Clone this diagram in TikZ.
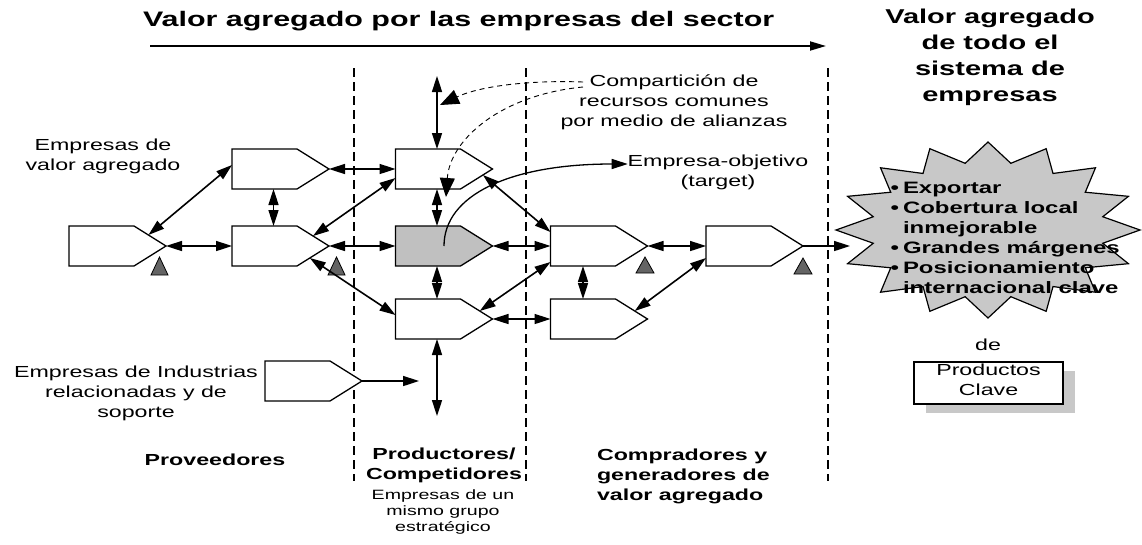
\documentclass[tikz,border=0pt]{standalone}
\usepackage{fontspec}
\setmainfont{Liberation Sans}[FakeStretch=1.45]
\usetikzlibrary{arrows.meta,calc,shadows}
\definecolor{boxgray}{RGB}{192,192,192}
\definecolor{stargray}{RGB}{200,200,200}
\definecolor{tridark}{RGB}{100,100,100}
\definecolor{shadowgray}{RGB}{200,200,200}
\newcommand\firmbox[3][white]{%
  \node[firmnode] (#2) at (#3) {};
  \coordinate (#2-nt) at ([xshift=65pt]#2.north west);
  \coordinate (#2-st) at ([xshift=65pt]#2.south west);
  \filldraw[fill=#1,draw=black,line width=1.3pt]
    (#2.north west) -- (#2-nt) -- (#2.east) -- (#2-st) -- (#2.south west) -- cycle;}
\begin{document}
\begin{tikzpicture}[x=1pt,y=-1pt,
  firmnode/.style={minimum width=97pt,minimum height=40pt,inner sep=0pt,outer sep=0pt},
  conn/.style={line width=1.6pt,>={Triangle[length=16pt,width=10pt]},<->},
  oneway/.style={line width=1.6pt,>={Triangle[length=16pt,width=10pt]},->},
  vdash/.style={line width=1.8pt,dash pattern=on 9pt off 5pt},
  share/.style={line width=0.9pt,dash pattern=on 5pt off 4pt,>={Triangle[length=19pt,width=15pt]},->},
  tri/.style={fill=tridark,draw=black,line width=0.8pt},
  txt/.style={inner sep=0pt,outer sep=0pt,font=\fontsize{16}{20}\selectfont,execute at begin node=\strut},
  btxt/.style={txt,font=\bfseries\fontsize{16}{20}\selectfont},
]
\useasboundingbox (0,0) rectangle (1142,544);

% section separators
\draw[vdash] (354,68) -- (354,481);
\draw[vdash] (526,68) -- (526,481);
\draw[vdash] (828,68) -- (828,481);

% titles
\node[txt,font=\bfseries\fontsize{21}{24}\selectfont,anchor=base west] (title) at (143,26)
  {Valor agregado por las empresas del sector};
\coordinate (ta) at (150,46);
\coordinate (tb) at (826,46);
\draw[line width=1.8pt,-{Triangle[length=16pt,width=9pt]}] (ta) -- (tb);
\node[txt,font=\bfseries\fontsize{20}{26}\selectfont,align=center,anchor=north] (title2) at (990,8.8)
  {Valor agregado\\de todo el\\sistema de\\empresas};

% firms
\firmbox{A}{117.5,246}
\firmbox{B}{280.5,169}
\firmbox{C}{280.5,246}
\firmbox{D}{444,169}
\firmbox[boxgray]{E}{444,246}
\firmbox{H}{444,319}
\firmbox{F}{599,246}
\firmbox{I}{599,319}
\firmbox{G}{754.5,246}
\firmbox{J}{313.5,381}

% small markers
\draw[tri] (159.5,257) -- (168,275) -- (151,275) -- cycle;
\draw[tri] (336.5,257) -- (345,275) -- (328,275) -- cycle;
\draw[tri] (645,257) -- (654,273) -- (636,273) -- cycle;
\draw[tri] (803,258) -- (812,274) -- (794,274) -- cycle;

% free ends
\coordinate (topend) at (437,76);
\coordinate (botend) at (437,416);
\coordinate (jend) at (419,381);
\coordinate (starin) at (850,246);

% connectors
\draw[conn] (A.east) -- (C.west);
\draw[conn] ($(A-nt)!0.45!(A.east)$) -- ($(B.west)+(0,-4)$);
\draw[conn] ($(B.south)+(-7,0)$) -- ($(C.north)+(-7,0)$);
\draw[conn] (B.east) -- (D.west);
\draw[conn] (C.east) -- (E.west);
\draw[conn] ($(C-nt)!0.5!(C.east)$) -- ($(D.west)+(0,9)$);
\draw[conn] ($(C.east)!0.6!(C-st)$) -- ($(H.west)+(0,-4)$);
\draw[conn] ($(D.south)+(-7,0)$) -- ($(E.north)+(-7,0)$);
\draw[conn] ($(E.south)+(-7,0)$) -- ($(H.north)+(-7,0)$);
\draw[conn] ($(D.north)+(-7,0)$) -- (topend);
\draw[conn] ($(H.south)+(-7,0)$) -- (botend);
\draw[conn] ($(D.east)!0.3!(D-st)$) -- ($(F.west)+(0,-14)$);
\draw[conn] (E.east) -- (F.west);
\draw[conn] ($(H-nt)!0.6!(H.east)$) -- ($(F.west)+(0,16)$);
\draw[conn] (H.east) -- (I.west);
\draw[conn] ($(F.south)+(-16,0)$) -- ($(I.north)+(-16,0)$);
\draw[conn] (F.east) -- (G.west);
\draw[conn] ($(I-nt)!0.6!(I.east)$) -- ($(G.west)+(0,12)$);
\draw[oneway] (J.east) -- (jend);

% star
\begin{scope}[shift={(988,230)}]
\filldraw[fill=stargray,draw=black,line width=1.2pt,line join=miter]
  (90:152 and 88) \foreach \i in {0,...,15}{ -- ({101.25+\i*22.5}:117 and 68) -- ({112.5+\i*22.5}:152 and 88)} -- cycle;
\end{scope}
\draw[oneway] (G.east) -- (starin);
\node[txt,font=\bfseries\fontsize{16.5}{20}\selectfont,align=left,anchor=north west] (goals) at (903,182)
  {\llap{\textbullet\hspace{4pt}}Exportar\\
   \llap{\textbullet\hspace{4pt}}Cobertura local\\
   inmejorable\\
   \llap{\textbullet\hspace{4pt}}Grandes márgenes\\
   \llap{\textbullet\hspace{4pt}}Posicionamiento\\
   internacional clave};

% labels
\node[txt,align=center,anchor=north] (valag) at (103,139) {Empresas de\\valor agregado};
\node[txt,align=center,anchor=north] (sharetxt) at (674,75)
  {Compartición de\\recursos comunes\\por medio de alianzas};
\node[txt,align=center,anchor=north] (obj) at (718,155) {Empresa-objetivo\\(target)};
\node[txt,align=center,anchor=north] (ind) at (136,366)
  {Empresas de Industrias\\relacionadas y de\\soporte};
\node[btxt,anchor=base] (prov) at (215,465) {Proveedores};
\node[btxt,align=center,anchor=north] (prod) at (444,448) {Productores/\\Competidores};
\node[txt,font=\fontsize{13.5}{16}\selectfont,align=center,anchor=north] (prodsub) at (443,490)
  {Empresas de un\\mismo grupo\\estratégico};
\node[btxt,align=left,anchor=north west] (comp) at (597,449)
  {Compradores y\\generadores de\\valor agregado};
\node[txt,anchor=base] (de) at (988,350) {de};
\node[txt,draw=black,line width=1.6pt,fill=white,align=center,minimum width=149pt,minimum height=42pt,
  general shadow={fill=shadowgray,shadow xshift=12pt,shadow yshift=-9pt}] (pc) at (988.5,383)
  {Productos\\Clave};

% sharing and target arrows
\coordinate (s1) at (583,82);
\coordinate (s2) at (583,87);
\coordinate (sh1tip) at (440,105);
\coordinate (sh2tip) at (446,197);
\draw[share] (s1) .. controls (530,80) and (480,86) .. (sh1tip);
\draw[share] (s2) .. controls (500,95) and (450,140) .. (sh2tip);
\draw[oneway,line width=1.3pt] (E.center) .. controls (444,195) and (510,164) .. ($(obj.north west)+(0,9)$);
\end{tikzpicture}
\end{document}
